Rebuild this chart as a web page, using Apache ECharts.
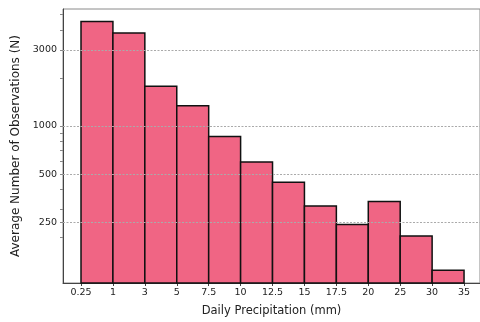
<!DOCTYPE html>
<html><head><meta charset="utf-8">
<script src="https://cdn.jsdelivr.net/npm/echarts@6/dist/echarts.min.js"></script>
<style>html,body{margin:0;padding:0;background:#fff}#c{width:480px;height:322px}</style>
</head><body><div id="c"></div>
<script>
const binEdges = ['0.25','1','3','5','7.5','10','12.5','15','17.5','20','25','30','35'];
const counts = [4510, 3815, 1771, 1337, 860, 595, 444, 315, 242, 337, 205, 125];
const yTickValues = [250, 500, 1000, 3000];
const yMinorTicks = [200, 300, 400, 600, 700, 800, 900, 2000, 4000, 5000];
const yMin = 104, yMax = 5400;

const chart = echarts.init(document.getElementById('c'), null, {renderer:'canvas'});
const font = 'DejaVu Sans';
const barData = counts.map((v,i)=>[i, v]);
chart.setOption({
  animation:false,
  grid:{left:63, right:-1, top:9, bottom:38, show:true, borderColor:'#8a8a8a', borderWidth:1},
  xAxis:{type:'value', min:-0.564, max:12.5,
    axisLine:{show:true, onZero:false, lineStyle:{color:'#444', width:1}},
    axisTick:{show:true, length:3, customValues:binEdges.map((_,i)=>i), lineStyle:{color:'#444'}},
    axisLabel:{customValues:binEdges.map((_,i)=>i), formatter:v=>binEdges[Math.round(v)], fontFamily:font, fontSize:9.5, color:'#222', margin:5},
    splitLine:{show:false},
    name:'Daily Precipitation (mm)', nameLocation:'middle', nameGap:22,
    nameTextStyle:{fontFamily:font, fontSize:11.5, color:'#222'}
  },
  yAxis:{type:'log', logBase:10, min:yMin, max:yMax,
    axisLine:{show:true, onZero:false, lineStyle:{color:'#444', width:1}},
    axisTick:{show:true, length:3, customValues:yTickValues.concat(yMinorTicks), lineStyle:{color:'#888'}},
    axisLabel:{customValues:yTickValues, formatter:v=>String(Math.round(v)), fontFamily:font, fontSize:9.5, color:'#222', margin:6},
    splitLine:{show:false}, minorTick:{show:false},
    name:'Average Number of Observations (N)', nameLocation:'middle', nameGap:36,
    nameTextStyle:{fontFamily:font, fontSize:12, color:'#222'}
  },
  series:[
    {type:'line', data:[], silent:true,
      markLine:{silent:true, symbol:'none', label:{show:false},
        lineStyle:{color:'#aaa', type:[2,1.5], width:1},
        data:yTickValues.map(v=>({yAxis:v}))}},
    {type:'custom', data:barData,
      renderItem:function(params, api){
        const i = api.value(0), v = api.value(1);
        const p0 = api.coord([i, v]);
        const p1 = api.coord([i+1, yMin]);
        return {type:'rect', shape:{x:p0[0], y:p0[1], width:p1[0]-p0[0], height:p1[1]-p0[1]},
          style:{fill:'#f06584', stroke:'#111', lineWidth:1.5}};
      },
      encode:{x:0, y:1}, z:3}
  ]
});
</script></body></html>
